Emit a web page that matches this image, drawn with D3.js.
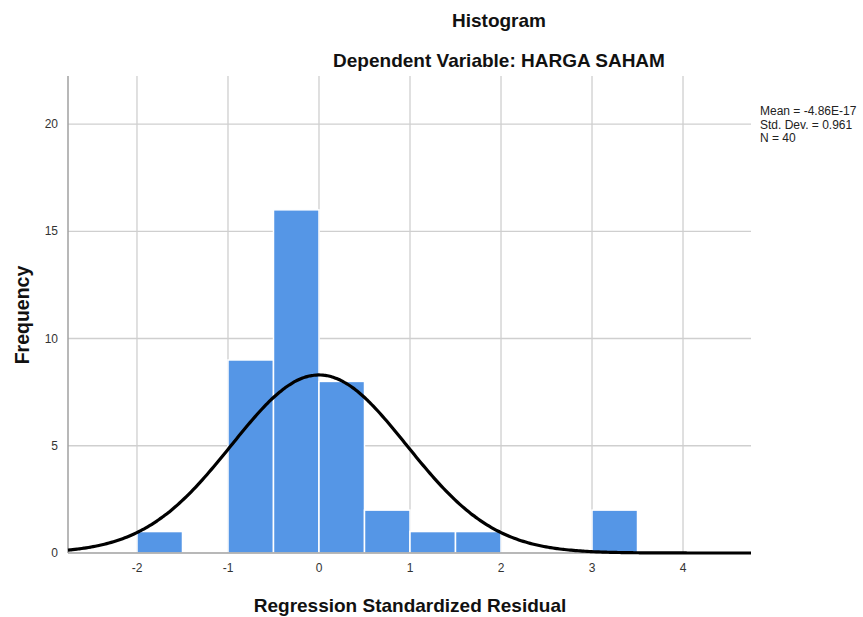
<!DOCTYPE html>
<html><head><meta charset="utf-8">
<script src="https://cdn.jsdelivr.net/npm/d3@7"></script>
<style>body{margin:0;background:#fff;} svg{display:block;font-family:Arial,"Liberation Sans",sans-serif;}</style>
</head><body>
<svg id="c" width="863" height="617"></svg>
<script>
const binStarts = [-2, -1, -0.5, 0, 0.5, 1, 1.5, 3];
const binCounts = [1, 9, 16, 8, 2, 1, 1, 2];
const binWidth = 0.5;
const xTicks = [-2, -1, 0, 1, 2, 3, 4];
const yTicks = [0, 5, 10, 15, 20];
const meanVal = -4.86e-17, sdVal = 0.961, nVal = 40;
const statLines = ["Mean = -4.86E-17", "Std. Dev. = 0.961", "N = 40"];

const svg = d3.select("#c");
const L = 68, R = 751, T = 76, B = 553;
const x = d3.scaleLinear().domain([-2.758, 4.747]).range([L, R]);
const y = d3.scaleLinear().domain([0, 22.24]).range([B, T]);

// gridlines
svg.append("g").selectAll("line.h").data(yTicks.filter(d=>d>0)).join("line")
  .attr("x1", L).attr("x2", R).attr("y1", d=>y(d)).attr("y2", d=>y(d))
  .attr("stroke", "#cfcfcf").attr("stroke-width", 1.3);
svg.append("g").selectAll("line.v").data(xTicks).join("line")
  .attr("x1", d=>x(d)).attr("x2", d=>x(d)).attr("y1", T).attr("y2", B)
  .attr("stroke", "#cfcfcf").attr("stroke-width", 1.3);

// bars
svg.append("g").selectAll("rect").data(binStarts.map((s,i)=>({s, c: binCounts[i]}))).join("rect")
  .attr("x", d=>x(d.s)).attr("width", d=>x(d.s+binWidth)-x(d.s))
  .attr("y", d=>y(d.c)).attr("height", d=>y(0)-y(d.c))
  .attr("fill", "#5596e6").attr("stroke", "#ffffff").attr("stroke-width", 1.5);

// axes lines
svg.append("line").attr("x1", L).attr("x2", L).attr("y1", T).attr("y2", B).attr("stroke", "#a0a0a0").attr("stroke-width", 1.5);
svg.append("line").attr("x1", L).attr("x2", R).attr("y1", B).attr("y2", B).attr("stroke", "#a0a0a0").attr("stroke-width", 1.5);

// normal curve
const pts = d3.range(0, 301).map(i => x.domain()[0] + i*(x.domain()[1]-x.domain()[0])/300);
const pdf = v => nVal*binWidth/(sdVal*Math.sqrt(2*Math.PI))*Math.exp(-0.5*((v-meanVal)/sdVal)**2);
svg.append("path").datum(pts)
  .attr("d", d3.line().x(d=>x(d)).y(d=>y(pdf(d))).curve(d3.curveBasis))
  .attr("fill", "none").attr("stroke", "#000").attr("stroke-width", 3.2);

// tick labels
svg.append("g").selectAll("text").data(yTicks).join("text")
  .attr("x", L-10).attr("y", d=>y(d)).attr("dy", "0.35em").attr("text-anchor", "end")
  .attr("font-size", 12).attr("fill", "#333").text(d=>d);
svg.append("g").selectAll("text").data(xTicks).join("text")
  .attr("x", d=>x(d)).attr("y", 572).attr("text-anchor", "middle")
  .attr("font-size", 12).attr("fill", "#333").text(d=>d);

// titles
svg.append("text").attr("x", 499).attr("y", 27).attr("text-anchor", "middle")
  .attr("font-size", 19).attr("font-weight", "bold").attr("fill", "#111").text("Histogram");
svg.append("text").attr("x", 499).attr("y", 67).attr("text-anchor", "middle")
  .attr("font-size", 19).attr("font-weight", "bold").attr("fill", "#111").text("Dependent Variable: HARGA SAHAM");
svg.append("text").attr("x", 410).attr("y", 612).attr("text-anchor", "middle")
  .attr("font-size", 19).attr("font-weight", "bold").attr("fill", "#111").text("Regression Standardized Residual");
svg.append("text").attr("transform", "translate(29,315) rotate(-90)").attr("text-anchor", "middle")
  .attr("font-size", 19.5).attr("font-weight", "bold").attr("fill", "#111").text("Frequency");

// stats
svg.append("g").selectAll("text").data(statLines).join("text")
  .attr("x", 760).attr("y", (d,i)=>115 + i*13.5)
  .attr("font-size", 12).attr("fill", "#222").text(d=>d);
</script>
</body></html>
